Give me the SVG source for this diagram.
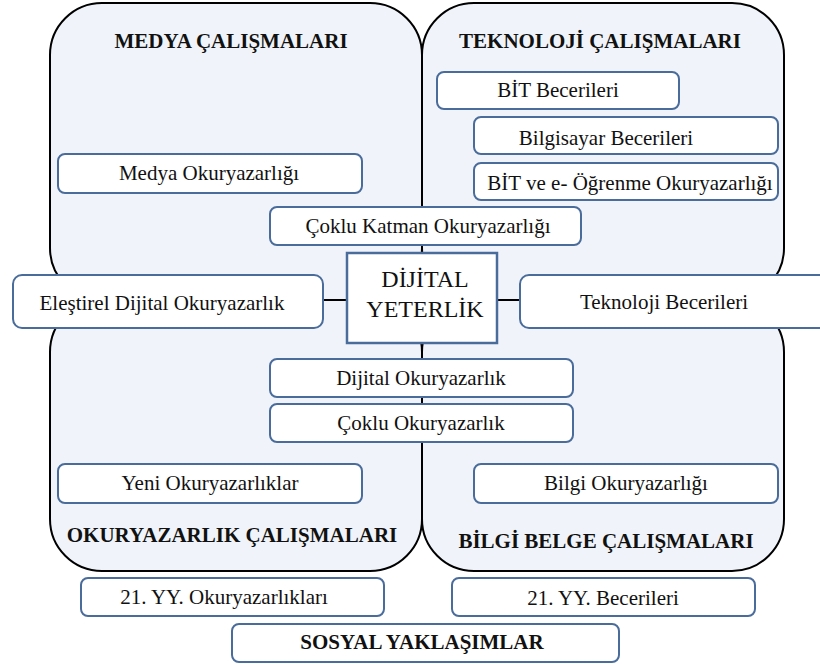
<svg xmlns="http://www.w3.org/2000/svg" width="820" height="664" viewBox="0 0 820 664">
  <style>
    .quad { fill: #f0f4fa; stroke: #000; stroke-width: 2; }
    .box { fill: #fff; stroke: #4a6c9b; stroke-width: 2; }
    .core { fill: #fff; stroke: #4a6c9b; stroke-width: 2.5; }
    .link { stroke: #000; stroke-width: 2; fill: none; }
    text { font-family: "Liberation Serif", "Times New Roman", serif; fill: #111; text-anchor: middle; }
    .lbl { font-size: 21px; }
    .head { font-size: 21px; font-weight: bold; }
    .big { font-size: 24px; }
  </style>
  <rect width="820" height="664" fill="#fff"/>

  <!-- four study areas -->
  <g id="areas">
    <rect class="quad" x="50" y="3" width="372" height="297" rx="52"/>
    <rect class="quad" x="422" y="3" width="362" height="297" rx="52"/>
    <rect class="quad" x="50" y="300" width="372" height="271" rx="52"/>
    <rect class="quad" x="422" y="300" width="362" height="271" rx="52"/>
    <text class="head" x="231" y="48">MEDYA ÇALIŞMALARI</text>
    <text class="head" x="600" y="48">TEKNOLOJİ ÇALIŞMALARI</text>
    <text class="head" x="232" y="542">OKURYAZARLIK ÇALIŞMALARI</text>
    <text class="head" x="606" y="548">BİLGİ BELGE ÇALIŞMALARI</text>
  </g>

  <!-- connectors from the core -->
  <g id="connectors">
    <line class="link" x1="323" y1="300" x2="347" y2="300"/>
    <line class="link" x1="497" y1="300" x2="520" y2="300"/>
  </g>

  <g id="core">
    <rect class="core" x="347" y="253" width="150" height="90"/>
    <text class="big" x="425" y="287">DİJİTAL</text>
    <text class="big" x="425" y="317">YETERLİK</text>
  </g>

  <g id="medya-okuryazarligi">
    <rect class="box" x="58" y="154" width="304" height="39" rx="7"/>
    <text class="lbl" x="209" y="180">Medya Okuryazarlığı</text>
  </g>
  <g id="coklu-katman">
    <rect class="box" x="270" y="207" width="311" height="38" rx="7"/>
    <text class="lbl" x="428" y="233">Çoklu Katman Okuryazarlığı</text>
  </g>
  <g id="bit-becerileri">
    <rect class="box" x="437" y="72" width="242" height="37" rx="7"/>
    <text class="lbl" x="558" y="97">BİT Becerileri</text>
  </g>
  <g id="bilgisayar-becerileri">
    <rect class="box" x="474" y="117" width="304" height="37" rx="7"/>
    <text class="lbl" x="606" y="145">Bilgisayar Becerileri</text>
  </g>
  <g id="bit-e-ogrenme">
    <rect class="box" x="474" y="163" width="304" height="37" rx="7"/>
    <text class="lbl" x="630" y="190">BİT ve e- Öğrenme Okuryazarlığı</text>
  </g>
  <g id="elestirel-dijital">
    <rect class="box" x="13" y="275" width="310" height="53" rx="9"/>
    <text class="lbl" x="162" y="310">Eleştirel Dijital Okuryazarlık</text>
  </g>
  <g id="teknoloji-becerileri">
    <rect class="box" x="520" y="275" width="320" height="53" rx="9"/>
    <text class="lbl" x="664" y="309">Teknoloji Becerileri</text>
  </g>
  <g id="dijital-okuryazarlik">
    <rect class="box" x="270" y="359" width="303" height="38" rx="7"/>
    <text class="lbl" x="421" y="385">Dijital Okuryazarlık</text>
  </g>
  <g id="coklu-okuryazarlik">
    <rect class="box" x="270" y="404" width="303" height="38" rx="7"/>
    <text class="lbl" x="421" y="430">Çoklu Okuryazarlık</text>
  </g>
  <g id="yeni-okuryazarliklar">
    <rect class="box" x="58" y="464" width="304" height="39" rx="7"/>
    <text class="lbl" x="210" y="490">Yeni Okuryazarlıklar</text>
  </g>
  <g id="bilgi-okuryazarligi">
    <rect class="box" x="474" y="464" width="304" height="39" rx="7"/>
    <text class="lbl" x="626" y="490">Bilgi Okuryazarlığı</text>
  </g>
  <g id="yy-okuryazarliklari">
    <rect class="box" x="81" y="578" width="303" height="38" rx="7"/>
    <text class="lbl" x="224" y="604">21. YY. Okuryazarlıkları</text>
  </g>
  <g id="yy-becerileri">
    <rect class="box" x="452" y="578" width="303" height="38" rx="7"/>
    <text class="lbl" x="603" y="605">21. YY. Becerileri</text>
  </g>
  <g id="sosyal-yaklasimlar">
    <rect class="box" x="232" y="624" width="387" height="38" rx="7"/>
    <text class="head" x="422" y="649">SOSYAL YAKLAŞIMLAR</text>
  </g>
</svg>
